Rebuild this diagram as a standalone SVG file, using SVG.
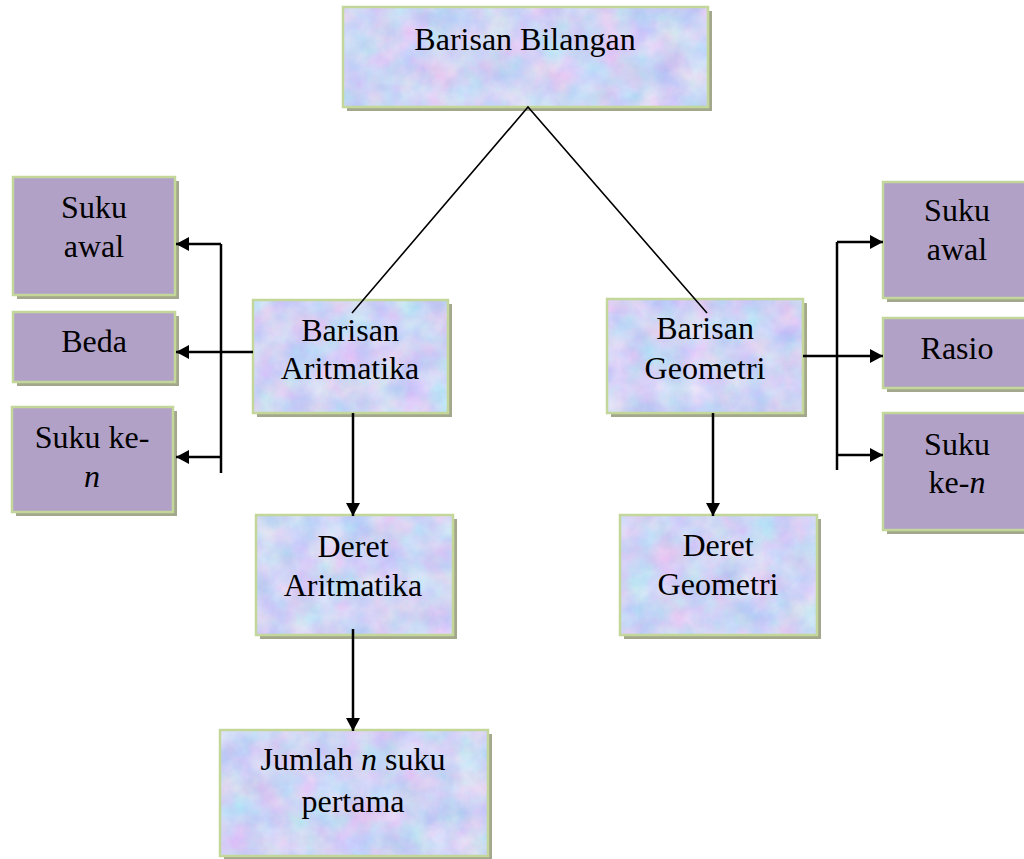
<svg xmlns="http://www.w3.org/2000/svg" width="1024" height="859" viewBox="0 0 1024 859">
<defs>
<filter id="tex" x="0" y="0" width="1" height="1" color-interpolation-filters="sRGB">
<feTurbulence type="fractalNoise" baseFrequency="0.035" numOctaves="4" seed="11" result="n"/>
<feColorMatrix in="n" type="matrix" values="0.3 0 0 0 0.66  0 0.22 0 0 0.72  0 0 0.08 0 0.92  0 0 0 0 1" result="c"/>
<feComposite in="c" in2="SourceGraphic" operator="in"/>
</filter>
<marker id="ah" markerUnits="userSpaceOnUse" markerWidth="14" markerHeight="14" refX="13" refY="7" orient="auto">
<path d="M0,0 L13,7 L0,14 z" fill="#000"/>
</marker>
<style>
.sh{fill:#a3a78b}
.bl{fill:#cbd4f4;filter:url(#tex)}
.pu{fill:#b2a1c7}
.bd{fill:none;stroke:#c4d79b;stroke-width:2.5}
text{font-size:32px;fill:#000;text-anchor:middle}
.it{font-style:italic}
.ln{stroke:#000;stroke-width:1.6;fill:none}
.ar{stroke:#000;stroke-width:2.5;fill:none}
</style>
</defs>
<rect width="1024" height="859" fill="#fff"/>
<g font-family="'Liberation Serif', serif">
<g id="node-barisan-bilangan">
<rect class="sh" x="347" y="11" width="365" height="100"/>
<rect class="bl" x="343" y="7" width="365" height="100"/>
<rect class="bd" x="343" y="7" width="365" height="100"/>
<text x="525" y="50">Barisan Bilangan</text>
</g>
<g id="node-suku-awal-a">
<rect class="sh" x="17" y="181" width="162" height="118"/>
<rect class="pu" x="13" y="177" width="162" height="118"/>
<rect class="bd" x="13" y="177" width="162" height="118"/>
<text x="94" y="218">Suku</text>
<text x="94" y="257">awal</text>
</g>
<g id="node-beda">
<rect class="sh" x="17" y="316" width="162" height="70"/>
<rect class="pu" x="13" y="312" width="162" height="70"/>
<rect class="bd" x="13" y="312" width="162" height="70"/>
<text x="94" y="352">Beda</text>
</g>
<g id="node-suku-ken-a">
<rect class="sh" x="16" y="411" width="161" height="105"/>
<rect class="pu" x="12" y="407" width="161" height="105"/>
<rect class="bd" x="12" y="407" width="161" height="105"/>
<text x="92" y="448">Suku ke-</text>
<text x="92" y="487" class="it">n</text>
</g>
<g id="node-barisan-aritmatika">
<rect class="sh" x="257" y="304" width="195" height="113"/>
<rect class="bl" x="253" y="300" width="195" height="113"/>
<rect class="bd" x="253" y="300" width="195" height="113"/>
<text x="350" y="341">Barisan</text>
<text x="350" y="379">Aritmatika</text>
</g>
<g id="node-barisan-geometri">
<rect class="sh" x="611" y="303" width="196" height="114"/>
<rect class="bl" x="607" y="299" width="196" height="114"/>
<rect class="bd" x="607" y="299" width="196" height="114"/>
<text x="705" y="339">Barisan</text>
<text x="705" y="379">Geometri</text>
</g>
<g id="node-suku-awal-g">
<rect class="sh" x="887" y="186" width="150" height="116"/>
<rect class="pu" x="883" y="182" width="150" height="116"/>
<rect class="bd" x="883" y="182" width="150" height="116"/>
<text x="957" y="221">Suku</text>
<text x="957" y="260">awal</text>
</g>
<g id="node-rasio">
<rect class="sh" x="887" y="322" width="150" height="70"/>
<rect class="pu" x="883" y="318" width="150" height="70"/>
<rect class="bd" x="883" y="318" width="150" height="70"/>
<text x="957" y="359">Rasio</text>
</g>
<g id="node-suku-ken-g">
<rect class="sh" x="887" y="417" width="150" height="117"/>
<rect class="pu" x="883" y="413" width="150" height="117"/>
<rect class="bd" x="883" y="413" width="150" height="117"/>
<text x="957" y="455">Suku</text>
<text x="957" y="493">ke-<tspan class="it">n</tspan></text>
</g>
<g id="node-deret-aritmatika">
<rect class="sh" x="260" y="519" width="197" height="120"/>
<rect class="bl" x="256" y="515" width="197" height="120"/>
<rect class="bd" x="256" y="515" width="197" height="120"/>
<text x="353" y="557">Deret</text>
<text x="353" y="596">Aritmatika</text>
</g>
<g id="node-deret-geometri">
<rect class="sh" x="624" y="519" width="197" height="120"/>
<rect class="bl" x="620" y="515" width="197" height="120"/>
<rect class="bd" x="620" y="515" width="197" height="120"/>
<text x="718" y="556">Deret</text>
<text x="718" y="595">Geometri</text>
</g>
<g id="node-jumlah">
<rect class="sh" x="224" y="734" width="268" height="126"/>
<rect class="bl" x="220" y="730" width="268" height="126"/>
<rect class="bd" x="220" y="730" width="268" height="126"/>
<text x="353" y="770">Jumlah <tspan class="it">n</tspan> suku</text>
<text x="353" y="812">pertama</text>
</g>
</g>
<g id="connectors">
<path class="ln" d="M352,313 L528,107 L707,313"/>
<line class="ar" x1="221" y1="244" x2="221" y2="473"/>
<line class="ar" x1="221" y1="244" x2="176" y2="244" marker-end="url(#ah)"/>
<line class="ar" x1="253" y1="352" x2="176" y2="352" marker-end="url(#ah)"/>
<line class="ar" x1="221" y1="457" x2="176" y2="457" marker-end="url(#ah)"/>
<line class="ar" x1="837" y1="242" x2="837" y2="470"/>
<line class="ar" x1="837" y1="242" x2="883" y2="242" marker-end="url(#ah)"/>
<line class="ar" x1="803" y1="356" x2="883" y2="356" marker-end="url(#ah)"/>
<line class="ar" x1="836" y1="455" x2="883" y2="455" marker-end="url(#ah)"/>
<line class="ar" x1="353" y1="413" x2="353" y2="516" marker-end="url(#ah)"/>
<line class="ar" x1="353" y1="629" x2="353" y2="731" marker-end="url(#ah)"/>
<line class="ar" x1="713" y1="413" x2="713" y2="516" marker-end="url(#ah)"/>
</g>
</svg>
